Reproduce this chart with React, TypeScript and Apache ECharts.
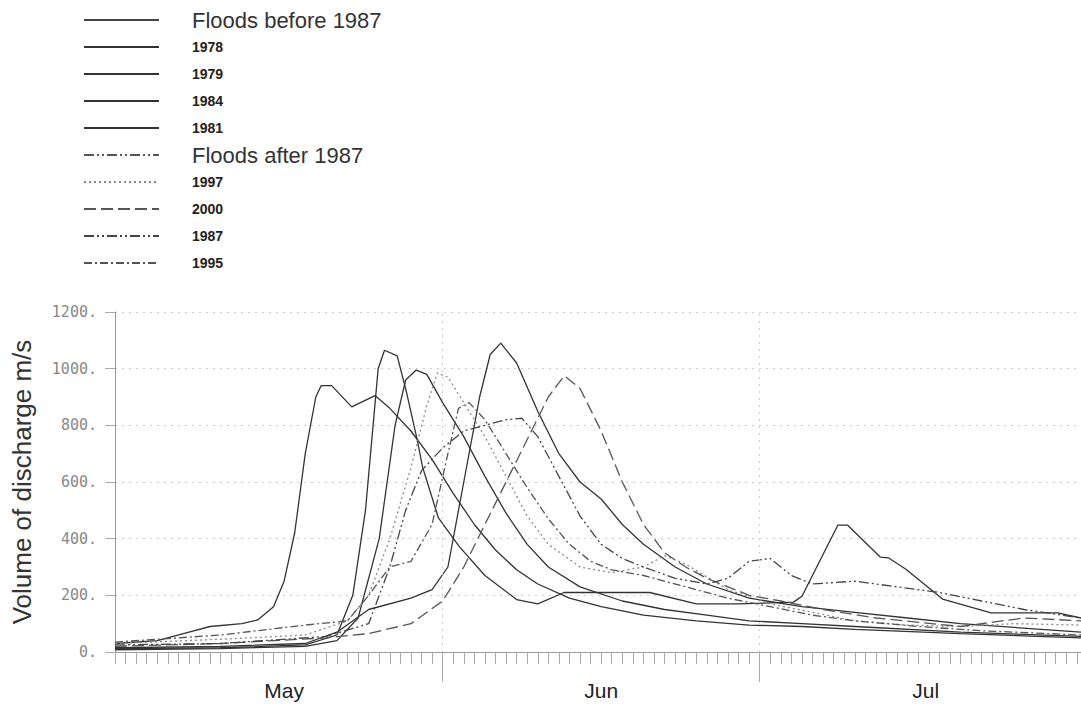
import { useEffect, useRef } from "react";
import * as echarts from "echarts";

// x = days since 1 May, y = discharge
const MONTH_NAMES = ["May", "Jun", "Jul"];
const MONTH_LABEL_DAYS = [16, 46, 76.7];
const MONTH_BOUNDARY_DAYS = [31, 61];
const X_MAX = 91.4;

const HEAD_BEFORE = "Floods before 1987";
const HEAD_AFTER = "Floods after 1987";
const YEARS_BEFORE = ["1978", "1979", "1984", "1981"];
const YEARS_AFTER = ["1997", "2000", "1987", "1995"];

const q1978: [number, number][] = [[0,30],[4,40],[7,70],[9,90],[12,100],[13.5,113],[15,160],[16,250],[17,420],[18,700],[19,900],[19.5,940],[20.5,940],[22.4,865],[24.6,905],[26,860],[28,780],[30,680],[32,560],[34,450],[36,360],[38,290],[40,240],[43,190],[46,160],[50,130],[55,110],[60,95],[65,90],[70,80],[80,65],[91.4,50]];
const q1979: [number, number][] = [[0,12],[10,15],[18,25],[21,60],[22.5,200],[23.7,500],[24.9,1000],[25.5,1065],[26.7,1045],[27.6,914],[28.6,748],[29.1,653],[30.6,473],[32.6,371],[35,270],[38,185],[40,170],[42.5,210],[50.6,210],[55,170],[59,170],[64.2,176],[65,197],[68.4,448],[69.3,448],[72.4,335],[73.2,332],[74.8,293],[78.3,187],[82.9,138],[89.2,138],[91.4,120]];
const q1984: [number, number][] = [[0,8],[10,12],[18,20],[21,40],[23,120],[25,400],[26.5,800],[27.5,960],[28.5,995],[29.5,980],[31,880],[33,760],[35,620],[37,490],[39,380],[41,300],[44,230],[48,180],[52,150],[56,130],[60,110],[65,100],[70,90],[80,70],[91.4,55]];
const q1981: [number, number][] = [[0,15],[10,20],[18,30],[21,70],[24,150],[28,190],[30,220],[31.5,300],[33,600],[34.5,900],[35.5,1050],[36.5,1090],[38,1020],[40,850],[42,700],[44,600],[46,540],[48,450],[50,380],[53,300],[56,240],[60,190],[65,160],[70,140],[75,120],[80,100],[91.4,70]];
const q1997: [number, number][] = [[0,30],[10,45],[18,60],[22,110],[24,200],[26,400],[28,650],[29.5,870],[30.5,985],[31.5,970],[33,880],[35,760],[37,620],[39,480],[41,380],[44,300],[47,280],[50,300],[52,340],[54,310],[58,220],[62,170],[66,140],[70,110],[75,95],[80,90],[85,100],[91.4,95]];
const q2000: [number, number][] = [[0,20],[10,30],[20,50],[24,65],[28,100],[31,180],[33,300],[35,450],[37,600],[39,750],[41,900],[42.5,975],[44,930],[46,780],[48,600],[50,450],[52,350],[54,300],[56,260],[58,230],[60,200],[63,180],[67,150],[72,120],[80,90],[86,120],[91.4,110]];
const q1987: [number, number][] = [[0,25],[10,30],[20,55],[24,100],[26,300],[27.5,500],[29,640],[31,720],[33,780],[35,800],[37,820],[38.5,825],[40,760],[42,620],[44,480],[46,380],[48,330],[50,300],[53,260],[56,240],[58,260],[60,320],[62,330],[64,270],[66,240],[70,250],[74,230],[78,210],[82,180],[86,150],[91.4,120]];
const q1995: [number, number][] = [[0,35],[10,60],[18,95],[22,110],[24,200],[26,300],[28,320],[30,450],[31.5,700],[32.5,860],[33.5,880],[35,820],[37,700],[39,580],[41,470],[43,380],[45,320],[47,290],[50,270],[54,230],[58,190],[62,160],[66,130],[70,110],[76,90],[82,75],[91.4,60]];

const BEFORE_DATA = [q1978, q1979, q1984, q1981];
const AFTER_DATA = [q1997, q2000, q1987, q1995];

const AFTER_STYLES = [
  { type: [2, 3], color: "#888" },
  { type: [12, 5], color: "#555" },
  { type: [10, 3, 2, 3, 2, 3], color: "#444" },
  { type: [8, 3, 2, 3], color: "#555" },
];

export default function App() {
  const ref = useRef<HTMLDivElement>(null);
  useEffect(() => {
    if (!ref.current) return;
    const chart = echarts.init(ref.current, undefined, { renderer: "svg" });
    const headText = { fontFamily: "Liberation Sans, Arial, sans-serif", fontSize: 22, color: "#333", lineHeight: 20, padding: [0, 0, 0, 28] };
    const yearText = { fontFamily: "Liberation Sans Narrow, Liberation Sans, Arial, sans-serif", fontWeight: "bold", fontSize: 14, color: "#222", lineHeight: 16, padding: [0, 0, 6, 28] };

    const series: any[] = [];
    series.push({ name: HEAD_BEFORE, type: "line", data: [], symbol: "none", lineStyle: { color: "#444", width: 1.3, type: "solid" }, itemStyle: { color: "#444" } });
    YEARS_BEFORE.forEach((y, i) => {
      series.push({ name: y, type: "line", data: BEFORE_DATA[i], symbol: "none", showSymbol: false, lineStyle: { color: "#333", width: 1.3, type: "solid" }, itemStyle: { color: "#333" } });
    });
    series.push({ name: HEAD_AFTER, type: "line", data: [], symbol: "none", lineStyle: { color: "#555", width: 1.3, type: [10, 3, 2, 3, 2, 3] }, itemStyle: { color: "#555" } });
    YEARS_AFTER.forEach((y, i) => {
      const st = AFTER_STYLES[i];
      series.push({ name: y, type: "line", data: AFTER_DATA[i], symbol: "none", showSymbol: false, lineStyle: { color: st.color, width: 1.3, type: st.type }, itemStyle: { color: st.color } });
    });
    series.push({
      name: "month grid", type: "line", data: [], symbol: "none", silent: true,
      markLine: { symbol: "none", silent: true, label: { show: false }, lineStyle: { color: "#ccc", type: [2, 5], width: 1 }, data: MONTH_BOUNDARY_DAYS.map((d) => ({ xAxis: d })) },
    });

    const legendData = [
      { name: HEAD_BEFORE, textStyle: headText },
      ...YEARS_BEFORE.map((n) => ({ name: n, textStyle: yearText })),
      { name: HEAD_AFTER, textStyle: headText },
      ...YEARS_AFTER.map((n) => ({ name: n, textStyle: yearText })),
    ];

    chart.setOption({
      animation: false,
      backgroundColor: "#fff",
      legend: {
        orient: "vertical", left: 83, top: 9, padding: 0, itemWidth: 75, itemHeight: 12, itemGap: 5,
        data: legendData, selectedMode: false,
        itemStyle: { opacity: 0, color: "transparent", borderWidth: 0 },
      },
      grid: { left: 115, top: 312, width: 966, height: 340, containLabel: false },
      xAxis: [
        {
          type: "value", min: 0, max: X_MAX, interval: 1,
          axisLine: { lineStyle: { color: "#999", width: 1 } },
          axisTick: { length: 12, lineStyle: { color: "#aaa" } },
          axisLabel: { show: false }, splitLine: { show: false },
        },
        {
          type: "value", min: 0, max: X_MAX, position: "bottom",
          axisLine: { show: false },
          axisTick: { show: true, length: 30, customValues: MONTH_BOUNDARY_DAYS, lineStyle: { color: "#aaa" } },
          axisLabel: {
            show: true, customValues: MONTH_LABEL_DAYS, margin: 28,
            formatter: (v: number) => MONTH_NAMES[MONTH_LABEL_DAYS.indexOf(v)] ?? "",
            fontFamily: "Liberation Sans, Arial, sans-serif", fontSize: 21, color: "#222",
          },
          splitLine: { show: false },
        },
      ],
      yAxis: {
        type: "value", min: 0, max: 1200, interval: 200,
        name: "Volume of discharge m/s", nameLocation: "middle", nameGap: 80,
        nameTextStyle: { fontFamily: "Liberation Sans, Arial, sans-serif", fontSize: 26, color: "#333" },
        axisLine: { show: true, lineStyle: { color: "#999" } },
        axisTick: { show: true, length: 10, lineStyle: { color: "#aaa" } },
        axisLabel: { margin: 18, formatter: (v: number) => `${v}.`, fontFamily: "DejaVu Sans Mono, monospace", fontSize: 15, color: "#888" },
        splitLine: { show: true, lineStyle: { color: "#ccc", type: [2, 5] } },
      },
      series,
    });
    return () => chart.dispose();
  }, []);
  return <div ref={ref} style={{ position: "absolute", left: 0, top: 0, width: 1081, height: 705 }} />;
}
